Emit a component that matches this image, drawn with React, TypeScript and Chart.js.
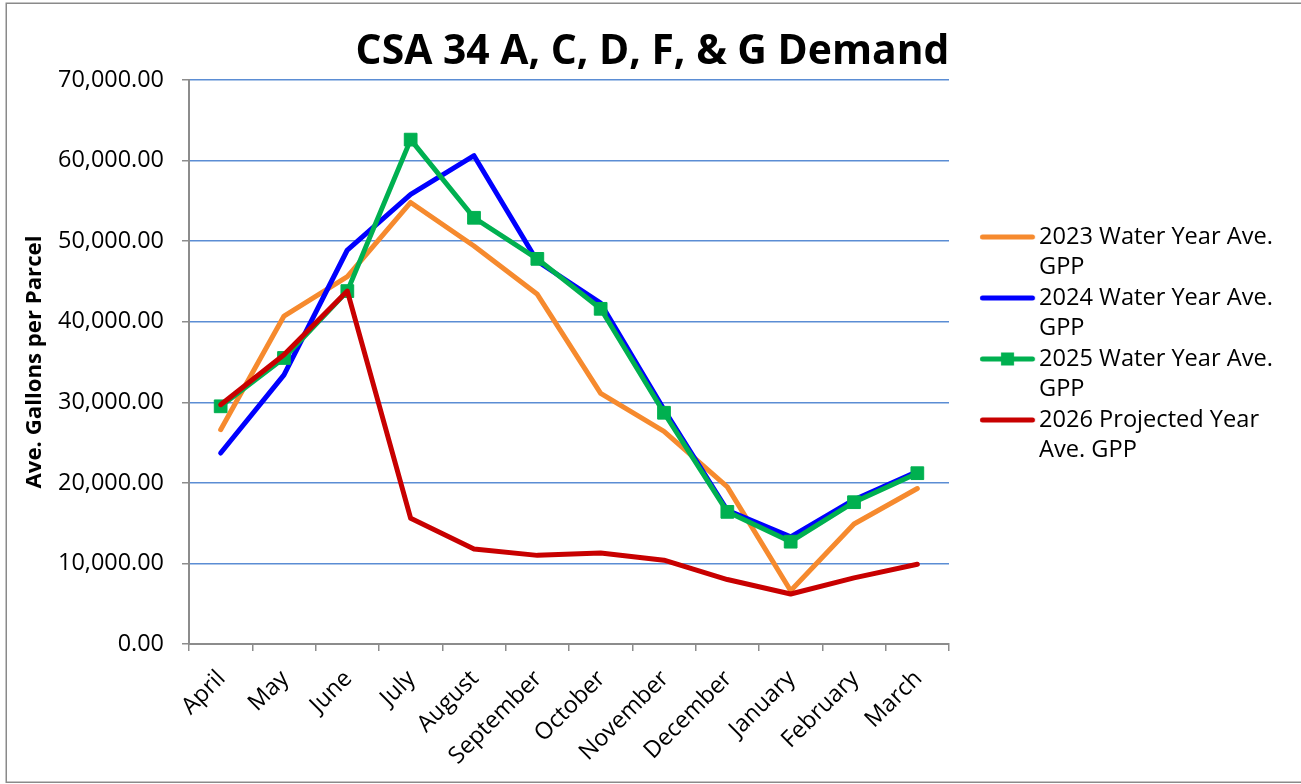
import React, { useEffect, useRef } from 'react';
import { Chart, registerables } from 'chart.js';

Chart.register(...registerables);

// ---------- data ----------
const months = ['April', 'May', 'June', 'July', 'August', 'September', 'October', 'November', 'December', 'January', 'February', 'March'];
const wy2023 = [26600, 40700, 45600, 54800, 49400, 43400, 31100, 26400, 19500, 6600, 14900, 19300];
const wy2024 = [23700, 33400, 48900, 55800, 60600, 47500, 42300, 29100, 16600, 13300, 17900, 21400];
const wy2025 = [29500, 35500, 43800, 62600, 52900, 47800, 41600, 28700, 16400, 12700, 17600, 21200];
const wy2026 = [29700, 35900, 43800, 15600, 11800, 11000, 11300, 10400, 8000, 6200, 8200, 9900];
const seriesNames = ['2023 Water Year Ave. GPP', '2024 Water Year Ave. GPP', '2025 Water Year Ave. GPP', '2026 Projected Year Ave. GPP'];
const legendLines = [
  ['2023 Water Year Ave.', 'GPP'],
  ['2024 Water Year Ave.', 'GPP'],
  ['2025 Water Year Ave.', 'GPP'],
  ['2026 Projected Year', 'Ave. GPP'],
];
const seriesColors = ['#F68A2E', '#0000FF', '#00B050', '#C80000'];
const seriesMarkers = [false, false, true, false];
const chartTitle = 'CSA 34 A, C, D, F, & G Demand';
const yAxisTitle = 'Ave. Gallons per Parcel';
const yMin = 0;
const yMax = 70000;
const yStep = 10000;

// ---------- layout targets ----------
const W = 1301;
const H = 784;
const AREA_LEFT = 189;
const AREA_RIGHT = 949;
const AREA_TOP = 80;
const AREA_BOTTOM = 644;
const FAMILY = '"Open Sans", "Noto Sans", sans-serif';
const GRID_BLUE = '#5B8DD4';
const AXIS_GRAY = '#8C8C8C';

const mctx = document.createElement('canvas').getContext('2d') as CanvasRenderingContext2D;
function measure(text: string, weight: string, size: number) {
  mctx.font = `${weight} ${size}px ${FAMILY}`;
  return mctx.measureText(text).width;
}
function fitSize(text: string, weight: string, target: number) {
  return (100 * target) / measure(text, weight, 100);
}

const fmt = (v: number) =>
  Number(v).toLocaleString('en-US', { minimumFractionDigits: 2, maximumFractionDigits: 2 });

function makeLegendImg(color: string, marker: boolean, imgW: number, x0: number, x1: number, mx: number) {
  const c = document.createElement('canvas');
  c.width = imgW;
  c.height = 18;
  const g = c.getContext('2d') as CanvasRenderingContext2D;
  g.strokeStyle = color;
  g.lineWidth = 5;
  g.lineCap = 'round';
  g.beginPath();
  g.moveTo(x0, 9);
  g.lineTo(x1, 9);
  g.stroke();
  if (marker) {
    g.fillStyle = color;
    g.fillRect(mx - 6.5, 2.5, 13, 13);
  }
  return c;
}

const borderPlugin = {
  id: 'outerBorder',
  afterDraw(chart: any) {
    const ctx = chart.ctx;
    ctx.save();
    ctx.strokeStyle = '#8A8A8A';
    ctx.lineWidth = 1.5;
    ctx.strokeRect(6.25, 3.25, 1310, 779);
    ctx.restore();
  },
};

export default function App() {
  const ref = useRef<HTMLCanvasElement | null>(null);

  useEffect(() => {
    if (!ref.current) return;

    const tickSize = fitSize('70,000.00', 'normal', 106);
    const legendSize = fitSize('2023 Water Year Ave.', 'normal', 234);
    const titleSize = fitSize(chartTitle, 'bold', 594);
    const yTitleSize = fitSize(yAxisTitle, 'bold', 253);

    // legend geometry
    const textX = 1039;
    const boxW = textX - AREA_RIGHT - legendSize / 2;
    let maxW = 0;
    legendLines.forEach((lines) => {
      const longest = lines.reduce((a, b) => (a.length > b.length ? a : b));
      maxW = Math.max(maxW, measure(longest, 'normal', legendSize));
    });
    const legendWidth = boxW + legendSize / 2 + maxW + 10;
    const pr = W - AREA_RIGHT - legendWidth;
    const pl = pr + (2 * 652.5 - W);

    const cx = AREA_RIGHT + boxW / 2;
    const imgW = 2 * Math.ceil(1038 - cx);
    const imgLeft = cx - imgW / 2;
    const legendImgs = seriesColors.map((c, i) =>
      makeLegendImg(c, seriesMarkers[i], imgW, 982.5 - imgLeft, 1032.5 - imgLeft, 1007.5 - imgLeft)
    );

    // title geometry
    const titleLH = titleSize * 1.2;
    const titlePadTop = 52.5 - titleLH / 2;
    const titlePadBottom = AREA_TOP - titlePadTop - titleLH;

    // y title geometry
    const yTitleLH = yTitleSize * 1.2;
    const yTitlePad = 35 - pl - yTitleLH / 2;

    const legendFirstLine = 237;
    const legendTitleLH = 12;
    const legendTitlePad = legendFirstLine - legendSize / 2 - legendTitleLH;

    const datasets = [wy2023, wy2024, wy2025, wy2026].map((data, i) => ({
      label: seriesNames[i],
      data,
      borderColor: seriesColors[i],
      backgroundColor: seriesColors[i],
      borderWidth: 5,
      borderCapStyle: 'round' as const,
      borderJoinStyle: 'round' as const,
      tension: 0,
      pointRadius: seriesMarkers[i] ? 9 : 0,
      pointHoverRadius: seriesMarkers[i] ? 9 : 0,
      pointStyle: 'rect' as const,
      pointBackgroundColor: seriesColors[i],
      pointBorderColor: seriesColors[i],
      pointBorderWidth: 1,
      order: 3 - i,
    }));

    const chart = new Chart(ref.current, {
      type: 'line',
      data: { labels: months, datasets },
      plugins: [borderPlugin],
      options: {
        responsive: false,
        animation: false,
        devicePixelRatio: 1,
        layout: { padding: { left: pl, right: pr, top: 0, bottom: 0 } },
        plugins: {
          tooltip: { enabled: false },
          title: {
            display: true,
            text: chartTitle,
            color: '#000',
            font: { family: FAMILY, size: titleSize, weight: 'bold', lineHeight: 1.2 },
            padding: { top: titlePadTop, bottom: titlePadBottom },
          },
          legend: {
            display: true,
            position: 'right',
            align: 'start',
            maxWidth: 600,
            title: {
              display: true,
              text: ' ',
              font: { family: FAMILY, size: 10, lineHeight: legendTitleLH + 'px' },
              padding: { top: 0, bottom: legendTitlePad },
            },
            labels: {
              usePointStyle: true,
              pointStyleWidth: boxW,
              padding: 0,
              color: '#000',
              font: { family: FAMILY, size: legendSize, lineHeight: 30.5 / legendSize },
              generateLabels: (c: any) => {
                const items = (Chart.defaults.plugins.legend.labels as any).generateLabels(c);
                items.sort((a: any, b: any) => a.datasetIndex - b.datasetIndex);
                return items.map((it: any) => ({
                  ...it,
                  text: legendLines[it.datasetIndex],
                  pointStyle: legendImgs[it.datasetIndex],
                }));
              },
            },
          },
        },
        scales: {
          x: {
            type: 'category',
            offset: true,
            grid: {
              offset: true,
              drawOnChartArea: false,
              drawTicks: true,
              tickLength: 7,
              color: AXIS_GRAY,
              tickColor: AXIS_GRAY,
              lineWidth: 1.5,
            },
            border: { color: AXIS_GRAY, width: 2 },
            ticks: {
              autoSkip: false,
              minRotation: 45,
              maxRotation: 45,
              padding: 14,
              labelOffset: 1,
              color: '#000',
              font: { family: FAMILY, size: tickSize },
            },
            afterFit: (s: any) => {
              s.height = H - AREA_BOTTOM;
            },
          },
          y: {
            min: yMin,
            max: yMax,
            ticks: {
              stepSize: yStep,
              padding: 18,
              color: '#000',
              font: { family: FAMILY, size: tickSize },
              callback: (v: any) => fmt(v),
            },
            grid: {
              color: (ctx: any) => (ctx.tick && ctx.tick.value === 0 ? AXIS_GRAY : GRID_BLUE),
              lineWidth: 1.5,
              tickColor: AXIS_GRAY,
              tickLength: 7,
              tickWidth: 1.5,
            },
            border: { color: AXIS_GRAY, width: 2 },
            title: {
              display: true,
              text: yAxisTitle,
              color: '#000',
              font: { family: FAMILY, size: yTitleSize, weight: 'bold', lineHeight: 1.2 },
              padding: { top: yTitlePad, bottom: 0 },
            },
            afterFit: (s: any) => {
              s.width = AREA_LEFT - pl;
            },
          },
        },
      } as any,
    });

    return () => chart.destroy();
  }, []);

  return (
    <div style={{ position: 'absolute', left: 0, top: 0, width: W, height: H, background: '#fff' }}>
      <canvas ref={ref} width={W} height={H} style={{ display: 'block', width: W, height: H }} />
    </div>
  );
}
